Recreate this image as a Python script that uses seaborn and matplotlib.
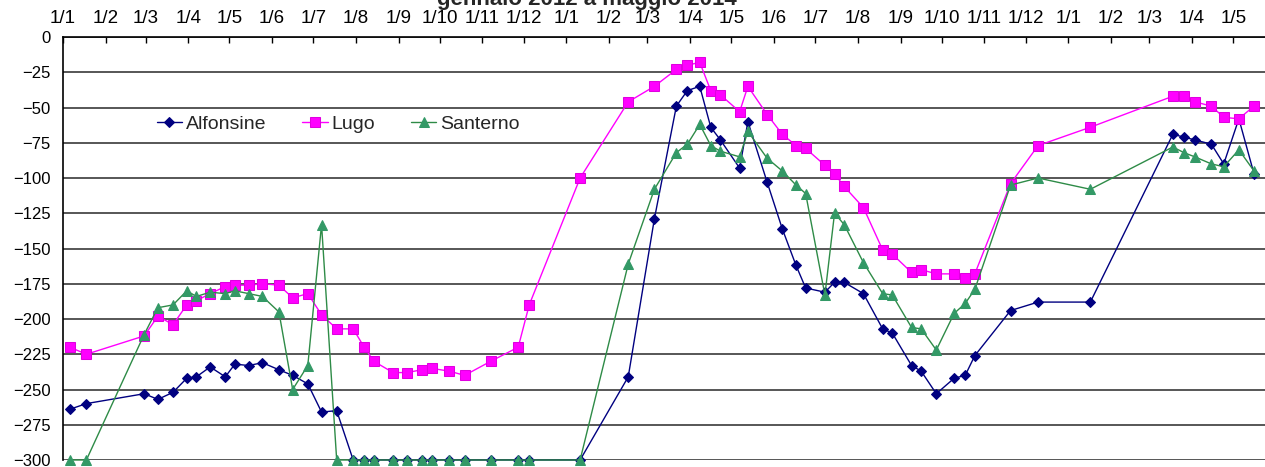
import pandas as pd
import numpy as np
import seaborn as sns
import matplotlib.dates as mdates
from matplotlib import pyplot as plt

# Date dei rilievi (comuni alle tre serie)
date_rilievi = ["2012-01-06", "2012-01-18", "2012-02-29", "2012-03-10", "2012-03-21", "2012-03-31",
                "2012-04-07", "2012-04-17", "2012-04-28", "2012-05-05", "2012-05-15", "2012-05-25",
                "2012-06-06", "2012-06-16", "2012-06-27", "2012-07-07", "2012-07-18", "2012-07-30",
                "2012-08-07", "2012-08-14", "2012-08-28", "2012-09-07", "2012-09-18", "2012-09-25",
                "2012-10-08", "2012-10-19", "2012-11-07", "2012-11-27", "2012-12-05",
                "2013-01-11", "2013-02-15", "2013-03-06", "2013-03-22", "2013-03-30", "2013-04-08",
                "2013-04-16", "2013-04-23", "2013-05-07", "2013-05-13", "2013-05-27", "2013-06-07",
                "2013-06-17", "2013-06-24", "2013-07-08", "2013-07-15", "2013-07-22", "2013-08-05",
                "2013-08-19", "2013-08-26", "2013-09-09", "2013-09-16", "2013-09-27", "2013-10-10",
                "2013-10-18", "2013-10-25", "2013-11-20", "2013-12-10",
                "2014-01-17", "2014-03-18", "2014-03-26", "2014-04-03", "2014-04-15", "2014-04-24",
                "2014-05-05", "2014-05-16"]

alfonsine = [-264, -260, -253, -257, -252, -242, -241, -234, -241, -232, -233, -231, -236, -240,
             -246, -266, -265,
             -300, -300, -300, -300, -300, -300, -300, -300, -300, -300, -300, -300, -300,
             -241, -129, -49, -38, -35, -64, -73, -93, -60, -103, -136, -162, -178, -181, -174,
             -174, -182, -207, -210, -233, -237, -253, -242, -240, -226, -194, -188, -188,
             -69, -71, -73, -76, -90, -58, -97]

lugo = [-220, -225, -212, -198, -204, -190, -187, -182, -177, -176, -176, -175, -176, -185,
        -182, -197, -207, -207, -220, -230, -238, -238, -236, -235, -237, -240, -230, -220,
        -190, -100, -46, -35, -23, -20, -18, -38, -41, -53, -35, -55, -69, -77, -79, -91, -97,
        -106, -121, -151, -154, -167, -165, -168, -168, -171, -168, -104, -77, -64,
        -42, -42, -46, -49, -57, -58, -49]

santerno = [-300, -300, -211, -192, -190, -180, -184, -181, -182, -180, -182, -184, -195, -250,
            -233, -133, -300,
            -300, -300, -300, -300, -300, -300, -300, -300, -300, -300, -300, -300, -300,
            -161, -108, -82, -76, -62, -77, -81, -85, -67, -86, -95, -105, -111, -183, -125,
            -133, -160, -182, -183, -206, -207, -222, -196, -189, -179, -105, -100, -108,
            -78, -82, -85, -90, -92, -80, -95]

sns.set_style('white')
plt.rcParams['font.family'] = ['Liberation Sans', 'DejaVu Sans']

df = pd.DataFrame({'data': pd.to_datetime(date_rilievi),
                   'Alfonsine': alfonsine, 'Lugo': lugo, 'Santerno': santerno})

fig = plt.figure(figsize=(12.65, 4.67), dpi=100)
ax = fig.add_axes([63 / 1265, 7 / 467, 1202 / 1265, 423 / 467])

# stile delle serie (come nel grafico Excel)
stili = {
    'Alfonsine': dict(marker='D', color='#000080', markersize=5.5, mfc='#000080', mec='#000080'),
    'Lugo': dict(marker='s', color='#FF00FF', markersize=7.5, mfc='#FF00FF', mec='#E000E0'),
    'Santerno': dict(marker='^', color='#2E8B47', markersize=7.5, mfc='#339966', mec='#339966'),
}
for nome in ['Alfonsine', 'Lugo', 'Santerno']:
    sns.lineplot(data=df, x='data', y=nome, ax=ax, label=nome, linewidth=1.0,
                 clip_on=False, zorder=3, **stili[nome])

ax.set_ylim(-300, 0)
ax.set_yticks(np.arange(-300, 1, 25))
ax.set_xlim(pd.Timestamp('2012-01-01'), pd.Timestamp('2014-05-24'))
ax.xaxis.tick_top()
ax.xaxis.set_major_locator(mdates.MonthLocator())
ax.xaxis.set_major_formatter(mdates.DateFormatter('%-d/%-m'))
ax.tick_params(axis='x', direction='in', length=4, width=1, pad=7, labelsize=13.5, colors='black')
ax.tick_params(axis='y', direction='out', length=5, width=1, pad=4, labelsize=12, colors='black')
ax.set_xlabel('')
ax.set_ylabel('')

ax.yaxis.grid(True, color='#3a3a3a', linewidth=1.2)
ax.xaxis.grid(False)
for s in ['right', 'bottom']:
    ax.spines[s].set_visible(False)
for s in ['top', 'left']:
    ax.spines[s].set_color('black')
    ax.spines[s].set_linewidth(1.2)

ax.legend(loc='center left', bbox_to_anchor=(0.078, 0.794), ncol=3, frameon=False,
          fontsize=14, handlelength=1.3, columnspacing=1.85, handletextpad=0.2, borderpad=0,
          borderaxespad=0)

fig.text(587 / 1265, 1 - 5 / 467, 'gennaio 2012 a maggio 2014', ha='center', va='baseline',
         fontsize=16, fontweight='bold')

fig.savefig('out.png', dpi=100)
